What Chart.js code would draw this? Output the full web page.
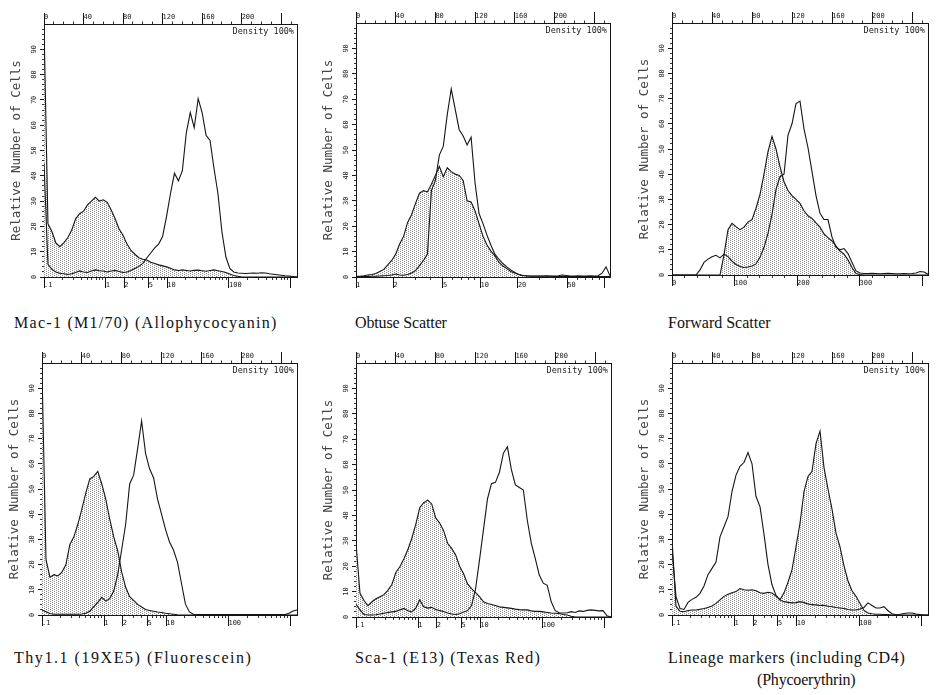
<!DOCTYPE html>
<html>
<head>
<meta charset="utf-8">
<script src="https://cdn.jsdelivr.net/npm/chart.js@4/dist/chart.umd.min.js"></script>
<style>
  html, body { margin: 0; padding: 0; background: #fff; }
  #page { position: relative; width: 940px; height: 695px; overflow: hidden; background: #fff; }
  .caption { position: absolute; font-family: "Liberation Serif", "Times New Roman", serif; font-size: 16px; line-height: 18px; color: #111; white-space: nowrap; }
  .density { position: absolute; width: 70px; text-align: right; font-family: "DejaVu Sans Mono", monospace; font-size: 8.5px; line-height: 10px; color: #222; white-space: nowrap; }
</style>
</head>
<body>
<div id="page">
  <div class="caption" style="left:14px;top:314px;letter-spacing:1.28px">Mac-1 (M1/70) (Allophycocyanin)</div>
  <div class="caption" style="left:355px;top:314px;letter-spacing:-0.14px">Obtuse Scatter</div>
  <div class="caption" style="left:668px;top:314px">Forward Scatter</div>
  <div class="caption" style="left:14px;top:649px;letter-spacing:1.55px">Thy1.1 (19XE5) (Fluorescein)</div>
  <div class="caption" style="left:355px;top:649px;letter-spacing:1.2px">Sca-1 (E13) (Texas Red)</div>
  <div class="caption" style="left:668px;top:649px;letter-spacing:0.68px">Lineage markers (including CD4)</div>
  <div class="caption" style="left:757px;top:671px;letter-spacing:-0.2px">(Phycoerythrin)</div>
</div>
<script>
// ---- histogram channels (0-256, every 4th channel) ----
const channels = [0,4,8,12,16,20,24,28,32,36,40,44,48,52,56,60,64,68,72,76,80,84,88,92,96,100,104,108,112,116,120,124,128,132,136,140,144,148,152,156,160,164,168,172,176,180,184,188,192,196,200,204,208,212,216,220,224,228,232,236,240,244,248,252,256];

// ---- relative number of cells per channel ----
const mac1Shaded = [100,21,18,13.5,12,13.5,15.5,18.5,23,25,26,28.5,30,31.5,30,30.5,29.5,26.5,23,19,16.5,13,10.5,9,7.6,7,6.7,5.8,5.3,4.8,4.4,4,3.5,2.8,2.6,2.8,2.6,2.4,2.6,2.7,2.5,2.3,2.6,2.8,2.5,2.2,1.8,1.2,0.6,0.3,0,0,0,0,0,0,0,0,0,0,0,0,0,0,0];
const mac1Open = [45,5,3,2,1.5,1.3,1,1.3,1.8,2.4,2,1.8,2.4,2.8,2.5,2.4,2,2.4,2.6,2.2,1.8,2,2.6,3.4,4.2,5.4,7.5,9.5,11.5,13,16,24,33,41,38,42,57,65,59,70.5,65,56,54,43,33,18,8,3.4,2,1.6,1.5,1.4,1.5,1.6,1.5,1.7,1.6,1.3,1.1,0.9,0.7,0.5,0.4,0.2,0];

const obtuseShaded = [0.3,0.3,0.5,0.8,1,1.4,2.2,3,4.8,6.5,9,13,16,21.5,24.5,29,33,34,33.5,36.5,40,43.5,39.5,43,41.5,40.5,40,38,30,29.5,26,21,16,12.6,10.2,8.3,5.8,4.3,3.3,2.2,1.6,1,0.6,0.4,0.3,0.3,0.3,0.3,0.3,0.3,0.2,0.2,0.2,0.2,0.2,0.2,0.2,0.2,0.2,0.2,0.2,0.2,0.2,0.2,0.2];
const obtuseOpen = [0.2,0.2,0.2,0.2,0.3,0.3,0.4,0.5,0.6,0.8,1.2,0.8,0.7,1,1.6,2.5,4.5,6.5,9,34,38,48,51.5,64,74,66,58,55.5,52,55,37,25,21,16.5,12.5,9,7,5.3,4,2.8,1.8,1,0.6,0.5,0.4,0.4,0.4,0.4,0.5,0.4,0.4,0.5,0.8,0.6,0.4,0.4,0.5,0.4,0.4,0.5,0.4,0.5,1.5,4,0.5];

const forwardShaded = [0,0,0,0,0,0,0,0,0,0,0,0,0,8,18,20.5,19.2,18,19,21,22,26.5,32,40,49,55,50,43,37,33.5,31.5,30,28.4,25.5,23.5,22.5,20.7,19,16.3,14.8,13.5,11.5,9.5,8.3,6,3,0.6,0.2,0,0,0,0,0,0,0,0,0,0,0,0,0,0,0,0,0];
const forwardOpen = [0,0,0,0,0,0,0,2,5,6.3,7.2,7.8,6.8,8.3,7.3,5.5,4.2,3.4,3,3.2,3.6,4.4,7,11,16.5,24,34,39,40,55.5,60,68,69,58,50.5,41,31.5,24.5,22,22,15,11,10,10.5,8.5,5,1.6,0.8,0.6,0.6,0.7,0.6,0.5,0.6,0.7,0.6,0.5,0.5,0.6,0.5,0.6,0.8,1.4,1.2,0.3];

const thy11Shaded = [97,22,15,16,15.5,17,20,28,31,36,42,48.5,54,55,57,52,46,38,31,25.5,17,11,7.3,5.8,4.2,3.2,2.2,1.8,1.5,1.2,1,0.7,0.5,0.3,0.1,0,0,0,0,0,0,0,0,0,0,0,0,0,0,0,0,0,0,0,0,0,0,0,0,0,0,0,0,0,0];
const thy11Open = [2,1.3,0.6,0.3,0.3,0.3,0.3,0.3,0.3,0.3,0.4,0.7,1.5,3.3,5,7,5.5,6.5,9.5,16,26,36,52,55.5,66,77,64,58,54.5,46,40,34,29,25.8,21,12.6,4.3,1.2,0.3,0.2,0.2,0.2,0.2,0.2,0.2,0.2,0.2,0.2,0.2,0.2,0.2,0.2,0.2,0.2,0.2,0.2,0.2,0.2,0.2,0.2,0.2,0.2,0.7,1.6,2];

const sca1Shaded = [29,9.3,6.5,4.5,6,7.2,8,8.8,10.5,12.8,17.5,19.8,22.8,26.5,31,36.5,43,45,46,44.5,39,37,34,29,27,24.5,20,17,13,11.2,9.6,8,6,5.3,4.9,4.5,4,3.8,3.6,3.4,3.1,2.9,2.8,2.8,2.4,2.2,2.2,2,1.8,1.6,1.5,1.4,1,0.8,0.3,0,0,0,0,0,0,0,0,0,0];
const sca1Open = [5,2.8,1,0.8,0.8,0.9,1.2,1.5,1.8,2,2.2,2.8,3.4,2.5,2,3.5,6.7,4,3.5,3.8,3,2.5,2.2,1.6,1.2,1,1.3,2,2.5,4.5,11,22.5,34.5,46.5,52.5,53,57,64.5,67,58,52,51,50,38,29,23,16.5,13.3,12.5,6,2.5,1.7,1.6,1.7,2.1,1.8,2.4,2.2,2.6,2.8,2.6,2.4,2.5,0.5,0];

const lineageShaded = [30,3.5,1.5,1.3,1.8,2,2,2.3,2.6,3,3.6,4.6,6,7.4,8.2,8.8,9.3,10.5,10,9.8,10,9.6,8.8,8.6,9,8.7,7.5,6,8.8,13,18,27,36.4,49,55,57,68,73,58.5,50,42,32.5,27,19.5,13.5,9.6,7.4,4.6,1.8,0.8,0.5,0.3,0.3,0.2,0.2,0,0,0,0,0,0,0,0,0,0];
const lineageOpen = [26,7.3,2.6,2.2,5,6.2,7,8.6,11.5,16,18.5,21,31,35,39,49,55.5,59,60.5,64.5,60,47,43,32,20,12,7.8,6,5.3,5,4.8,4.9,5.3,4.9,4.4,4.1,4,3.8,3.8,3.5,3.3,3,2.8,2.6,2.2,2,2,2.4,3,4.8,3.8,2.8,2.8,3.3,1.7,0.5,0.1,0.3,0.6,0.8,0.8,0.4,0.2,0,0];

// ---- axis ticks ----
const yTicks = [0,10,20,30,40,50,60,70,80,90];
const yTickLabels = ['0','10','20','30','40','50','60','70','80','90'];
const yMinorTicks = [2,4,6,8,12,14,16,18,22,24,26,28,32,34,36,38,42,44,46,48,52,54,56,58,62,64,66,68,72,74,76,78,82,84,86,88,92,94,96,98];
const channelTicks = [0,40,80,120,160,200,240];
const channelTickLabels = ['0','40','80','120','160','200',''];
const channelMinorTicks = [10,20,30,50,60,70,90,100,110,130,140,150,170,180,190,210,220,230,250];
const logTicks = [0.1,1,2,5,10,100,1000];
const logTickLabels = ['.1','1','2','5','10','100',''];
const logMinorTicks = [0.2,0.3,0.4,0.5,0.6,0.7,0.8,0.9,3,4,6,7,8,9,20,30,40,50,60,70,80,90,200,300,400,500,600,700,800,900];
const obtuseTicks = [1,2,5,10,20,50,100];
const obtuseTickLabels = ['1','2','5','10','20','50',''];
const obtuseMinorTicks = [3,4,6,7,8,9,30,40,60,70,80,90];
const forwardTicks = [0,100,200,300,400];
const forwardTickLabels = ['0','100','200','300',''];
const forwardMinorTicks = [20,40,60,80,120,140,160,180,220,240,260,280,320,340,360,380];

const yTitle = 'Relative Number of Cells';
const densityText = 'Density 100%';

// ---- panel layout: plot box [left, top, width, height] and bottom scale ----
const panels = [
  { box: [44, 24, 253, 253], shaded: mac1Shaded, open: mac1Open,
    bottom: { type: 'logarithmic', min: 0.1, max: 1270, ticks: logTicks, labels: logTickLabels, minor: logMinorTicks } },
  { box: [356, 23, 254, 254], shaded: obtuseShaded, open: obtuseOpen,
    bottom: { type: 'logarithmic', min: 1, max: 110, ticks: obtuseTicks, labels: obtuseTickLabels, minor: obtuseMinorTicks } },
  { box: [672, 23, 256, 252], shaded: forwardShaded, open: forwardOpen,
    bottom: { type: 'linear', min: 0, max: 409.6, ticks: forwardTicks, labels: forwardTickLabels, minor: forwardMinorTicks } },
  { box: [42, 363, 255, 252], shaded: thy11Shaded, open: thy11Open,
    bottom: { type: 'logarithmic', min: 0.1, max: 1270, ticks: logTicks, labels: logTickLabels, minor: logMinorTicks } },
  { box: [356, 363, 255, 254], shaded: sca1Shaded, open: sca1Open,
    bottom: { type: 'logarithmic', min: 0.1, max: 1270, ticks: logTicks, labels: logTickLabels, minor: logMinorTicks } },
  { box: [672, 363, 256, 252], shaded: lineageShaded, open: lineageOpen,
    bottom: { type: 'logarithmic', min: 0.1, max: 1270, ticks: logTicks, labels: logTickLabels, minor: logMinorTicks } }
];

const LEFT = 44, TOP = 24, BOTTOM = 22, RIGHT = 6;
const INK = '#151515';
const tickFont = { family: 'DejaVu Sans Mono', size: 7, lineHeight: 1.2 };

// dotted grey stipple used under the shaded histogram
function makeStipple() {
  const c = document.createElement('canvas');
  c.width = 4; c.height = 4;
  const g = c.getContext('2d');
  g.fillStyle = '#ffffff';
  g.fillRect(0, 0, 4, 4);
  g.fillStyle = '#8a8a8a';
  [[0, 0], [2, 1], [0, 2], [2, 3]].forEach(([x, y]) => g.fillRect(x, y, 1, 1));
  return g.createPattern(c, 'repeat');
}
const stipple = makeStipple();

function noPad(s) { s.paddingLeft = 0; s.paddingRight = 0; s.paddingTop = 0; s.paddingBottom = 0; }
function fixedTicks(values) { return s => { s.ticks = values.map(v => ({ value: v })); }; }
function points(values) { return channels.map((c, i) => ({ x: c, y: values[i] })); }

function minorAxis(position, type, min, max, values, len) {
  return {
    type, position, min, max, weight: 0, display: true,
    afterBuildTicks: fixedTicks(values),
    ticks: { display: false, autoSkip: false },
    grid: { drawOnChartArea: false, drawTicks: true, tickLength: len, color: '#333', lineWidth: 1 },
    border: { display: false },
    afterFit: s => {
      if (position === 'top' || position === 'bottom') s.height = 0; else s.width = 0;
      noPad(s);
    }
  };
}

const page = document.getElementById('page');

panels.forEach(p => {
  const [L, T, W, H] = p.box;
  const cw = LEFT + W + RIGHT, ch = TOP + H + BOTTOM;
  const canvas = document.createElement('canvas');
  canvas.width = cw; canvas.height = ch;
  canvas.style.cssText = `position:absolute;left:${L - LEFT}px;top:${T - TOP}px;width:${cw}px;height:${ch}px;`;
  page.appendChild(canvas);

  const dens = document.createElement('div');
  dens.className = 'density';
  dens.textContent = densityText;
  dens.style.left = (L + W - 73) + 'px';
  dens.style.top = (T + 2) + 'px';
  page.appendChild(dens);

  const b = p.bottom;
  new Chart(canvas, {
    type: 'line',
    data: {
      datasets: [
        { data: points(p.open), borderColor: INK, borderWidth: 1.1, pointRadius: 0, fill: false, tension: 0, xAxisID: 'x', yAxisID: 'y' },
        { data: points(p.shaded), borderColor: INK, borderWidth: 1.1, pointRadius: 0, fill: 'origin', backgroundColor: stipple, tension: 0, xAxisID: 'x', yAxisID: 'y' }
      ]
    },
    options: {
      responsive: false, animation: false, devicePixelRatio: 1, events: [],
      layout: { padding: { left: 0, top: 0, right: RIGHT, bottom: 0 } },
      plugins: { legend: { display: false }, tooltip: { enabled: false } },
      scales: {
        x: {
          type: 'linear', position: 'top', weight: 1, min: 0, max: 256,
          afterBuildTicks: fixedTicks(channelTicks),
          ticks: { autoSkip: false, maxRotation: 0, minRotation: 0, align: 'start', padding: -8.5, font: tickFont, color: '#222',
                   callback: (v, i) => channelTickLabels[i] },
          grid: { drawOnChartArea: false, tickLength: 11, color: INK, lineWidth: 1 },
          border: { display: true, color: INK, width: 1 },
          afterFit: s => { s.height = TOP; noPad(s); }
        },
        xm: minorAxis('top', 'linear', 0, 256, channelMinorTicks, 2.5),
        xb: {
          type: b.type, position: 'bottom', weight: 1, min: b.min, max: b.max,
          afterBuildTicks: fixedTicks(b.ticks),
          ticks: { autoSkip: false, maxRotation: 0, minRotation: 0, align: 'start', padding: -7.5, font: tickFont, color: '#222',
                   callback: (v, i) => b.labels[i] },
          grid: { drawOnChartArea: false, tickLength: 11, color: INK, lineWidth: 1 },
          border: { display: true, color: INK, width: 1 },
          afterFit: s => { s.height = BOTTOM; noPad(s); }
        },
        xbm: minorAxis('bottom', b.type, b.min, b.max, b.minor, 3),
        y: {
          type: 'linear', position: 'left', weight: 1, min: 0, max: 100,
          afterBuildTicks: fixedTicks(yTicks),
          ticks: { autoSkip: false, minRotation: 90, maxRotation: 90, crossAlign: 'center', padding: 1.3, font: tickFont, color: '#222',
                   callback: (v, i) => yTickLabels[i] },
          grid: { drawOnChartArea: false, tickLength: 4, color: INK, lineWidth: 1 },
          border: { display: true, color: INK, width: 1 },
          afterFit: s => { s.width = 14; noPad(s); }
        },
        ym: minorAxis('left', 'linear', 0, 100, yMinorTicks, 2),
        yt: {
          type: 'linear', position: 'left', weight: 2, display: true,
          ticks: { display: false },
          grid: { display: false, drawTicks: false },
          border: { display: false },
          title: { display: true, text: yTitle, color: '#444',
                   font: { family: 'DejaVu Sans Mono', size: 12.5, lineHeight: 1.2 },
                   padding: { top: 9.5, bottom: 0 } },
          afterFit: s => { s.width = LEFT - 14; noPad(s); }
        },
        yr: {
          type: 'linear', position: 'right', weight: 0, display: true,
          ticks: { display: false },
          grid: { display: false, drawTicks: false },
          border: { display: true, color: INK, width: 1 },
          afterFit: s => { s.width = 0; noPad(s); }
        }
      }
    }
  });
});
</script>
</body>
</html>
